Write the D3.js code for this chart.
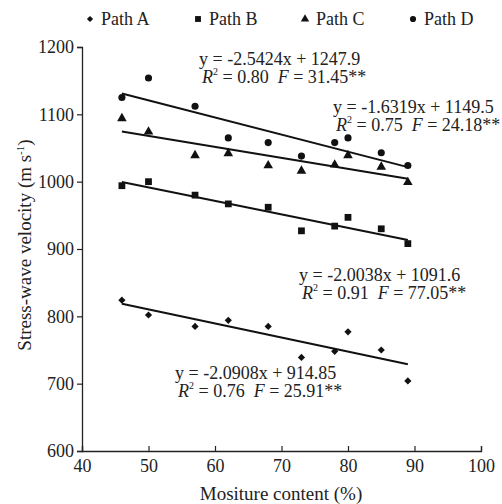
<!DOCTYPE html>
<meta charset="utf-8">
<style>
  body { margin: 0; background: #fff; }
  svg text { font-family: "Liberation Serif", "Times New Roman", serif; fill: #222; }
</style>
<body>
<svg width="502" height="504"></svg>
<script src="https://d3js.org/d3.v7.min.js"></script>
<script>
// moisture content (%) of each sample
var moisture = [46, 50, 57, 62, 68, 73, 78, 80, 85, 89];

var pathA = [824, 802, 785, 794, 785, 739, 748, 777, 750, 704];
var pathB = [994, 1000, 980, 967, 962, 927, 934, 947, 930, 908];
var pathC = [1094, 1074, 1039, 1042, 1024, 1016, 1025, 1039, 1022, 999];
var pathD = [1125, 1154, 1112, 1065, 1058, 1038, 1058, 1065, 1043, 1024];

var seriesNames = ["Path A", "Path B", "Path C", "Path D"];

// linear fits: slope, intercept, R2, F
var slopes = [-2.0908, -2.0038, -1.6319, -2.5424];
var intercepts = [914.85, 1091.6, 1149.5, 1247.9];
var r2 = ["0.76", "0.91", "0.75", "0.80"];
var fStat = ["25.91", "77.05", "24.18", "31.45"];
var eqText = ["y = -2.0908x + 914.85", "y = -2.0038x + 1091.6", "y = -1.6319x + 1149.5", "y = -2.5424x + 1247.9"];

var xTicks = [40, 50, 60, 70, 80, 90, 100];
var yTicks = [600, 700, 800, 900, 1000, 1100, 1200];

var serif = "'Liberation Serif', 'Times New Roman', serif";
var svg = d3.select("svg");

var x = d3.scaleLinear().domain([40, 100]).range([82, 481]);
var y = d3.scaleLinear().domain([600, 1200]).range([451, 47]);

var values = [pathA, pathB, pathC, pathD];

var shapes = [
    { type: d3.symbolSquare, size: 26, rotate: 45 },
    { type: d3.symbolSquare, size: 46, rotate: 0 },
    { type: d3.symbolTriangle, size: 40, rotate: 0 },
    { type: d3.symbolCircle, size: 40, rotate: 0 }
];

// axes
var yAxis = d3.axisLeft(y).tickValues(yTicks).tickFormat(d3.format("d")).tickSize(5).tickPadding(3);
var gy = svg.append("g").attr("transform", "translate(82,0)").call(yAxis)
    .attr("font-family", serif).attr("font-size", 18);
gy.select(".domain").attr("stroke", "#222").attr("stroke-width", 1.3);
gy.selectAll(".tick line").attr("stroke", "#222").attr("stroke-width", 1.2);
gy.selectAll(".tick text").attr("fill", "#222");

var xAxis = d3.axisBottom(x).tickValues(xTicks).tickFormat(d3.format("d")).tickSize(-5).tickPadding(8);
var gx = svg.append("g").attr("transform", "translate(0,451)").call(xAxis)
    .attr("font-family", serif).attr("font-size", 18);
gx.select(".domain").attr("stroke", "#222").attr("stroke-width", 1.3);
gx.selectAll(".tick line").attr("stroke", "#222").attr("stroke-width", 1.2);
gx.selectAll(".tick text").attr("fill", "#222");

// axis titles
svg.append("text")
    .attr("x", 281).attr("y", 500)
    .attr("text-anchor", "middle")
    .attr("font-size", 19)
    .text("Mositure content (%)");

var yt = svg.append("text")
    .attr("transform", "translate(31,245) rotate(-90)")
    .attr("text-anchor", "middle")
    .attr("font-size", 19);
yt.append("tspan").text("Stress-wave velocity (m s");
yt.append("tspan").attr("font-size", 11).attr("dy", -7).text("-1");
yt.append("tspan").attr("dy", 7).text(")");

// fit lines
var x0 = d3.min(moisture), x1 = d3.max(moisture);
svg.append("g").selectAll("line")
    .data(slopes)
    .enter().append("line")
    .attr("x1", x(x0))
    .attr("x2", x(x1))
    .attr("y1", function(d, i) { return y(d * x0 + intercepts[i]); })
    .attr("y2", function(d, i) { return y(d * x1 + intercepts[i]); })
    .attr("stroke", "#111")
    .attr("stroke-width", 2);

// points
values.forEach(function(vals, i) {
    var sym = d3.symbol().type(shapes[i].type).size(shapes[i].size);
    svg.append("g").selectAll("path")
        .data(vals)
        .enter().append("path")
        .attr("d", sym)
        .attr("fill", "#111")
        .attr("transform", function(d, j) {
            return "translate(" + x(moisture[j]) + "," + y(d) + ") rotate(" + shapes[i].rotate + ")";
        });
});

// equation labels (left edge, baseline of first line), two lines in one text
var labelPos = [[175, 379], [299, 281], [333, 113], [199, 65]];
labelPos.forEach(function(p, i) {
    var t = svg.append("text").attr("x", p[0]).attr("y", p[1]).attr("font-size", 18);
    t.append("tspan").text(eqText[i]);
    t.append("tspan").attr("x", p[0] + 3).attr("dy", 18).attr("font-style", "italic").text("R");
    t.append("tspan").attr("font-size", 10).attr("dy", -8).text("2");
    t.append("tspan").attr("dy", 8).text(" = " + r2[i]);
    t.append("tspan").attr("dx", 9).attr("font-style", "italic").text("F");
    t.append("tspan").text(" = " + fStat[i] + "**");
});

// legend
var legendX = [90, 198, 305, 413];
seriesNames.forEach(function(name, i) {
    var s = shapes[i];
    var sym = d3.symbol().type(s.type).size(s.size * 0.75);
    svg.append("path")
        .attr("d", sym)
        .attr("fill", "#111")
        .attr("transform", "translate(" + legendX[i] + ",19) rotate(" + s.rotate + ")");
    svg.append("text")
        .attr("x", legendX[i] + 11).attr("y", 25)
        .attr("font-size", 18)
        .text(name);
});
</script>
</body>
